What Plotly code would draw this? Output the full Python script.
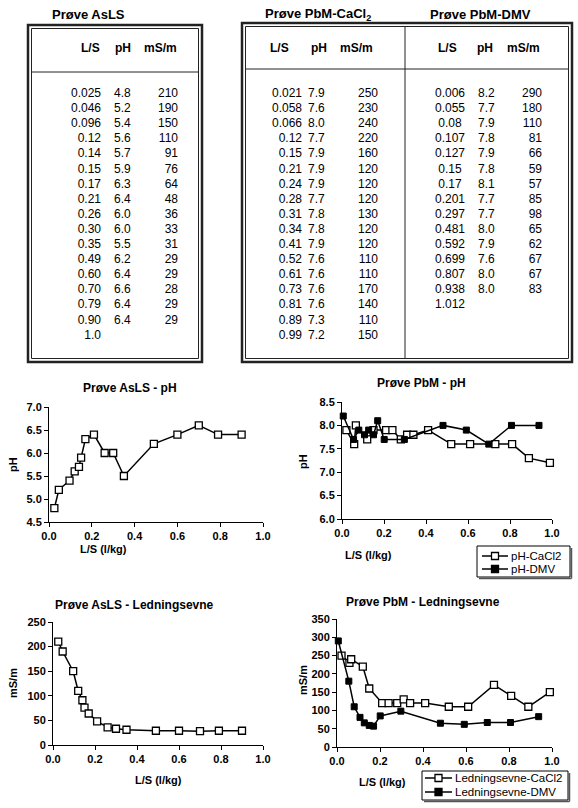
import plotly.graph_objects as go

W, H = 578, 808

# Prøve AsLS
asls_ls = [0.025, 0.046, 0.096, 0.12, 0.14, 0.15, 0.17, 0.21, 0.26, 0.30, 0.35, 0.49, 0.60, 0.70, 0.79, 0.90]
asls_ph = [4.8, 5.2, 5.4, 5.6, 5.7, 5.9, 6.3, 6.4, 6.0, 6.0, 5.5, 6.2, 6.4, 6.6, 6.4, 6.4]
asls_ms = [210, 190, 150, 110, 91, 76, 64, 48, 36, 33, 31, 29, 29, 28, 29, 29]
asls_ls_lbl = ["0.025", "0.046", "0.096", "0.12", "0.14", "0.15", "0.17", "0.21", "0.26", "0.30",
               "0.35", "0.49", "0.60", "0.70", "0.79", "0.90", "1.0"]

# Prøve PbM-CaCl2
cacl_ls = [0.021, 0.058, 0.066, 0.12, 0.15, 0.21, 0.24, 0.28, 0.31, 0.34, 0.41, 0.52, 0.61, 0.73, 0.81, 0.89, 0.99]
cacl_ph = [7.9, 7.6, 8.0, 7.7, 7.9, 7.9, 7.9, 7.7, 7.8, 7.8, 7.9, 7.6, 7.6, 7.6, 7.6, 7.3, 7.2]
cacl_ms = [250, 230, 240, 220, 160, 120, 120, 120, 130, 120, 120, 110, 110, 170, 140, 110, 150]
cacl_ls_lbl = ["0.021", "0.058", "0.066", "0.12", "0.15", "0.21", "0.24", "0.28", "0.31", "0.34",
               "0.41", "0.52", "0.61", "0.73", "0.81", "0.89", "0.99"]

# Prøve PbM-DMV
dmv_ls = [0.006, 0.055, 0.08, 0.107, 0.127, 0.15, 0.17, 0.201, 0.297, 0.481, 0.592, 0.699, 0.807, 0.938]
dmv_ph = [8.2, 7.7, 7.9, 7.8, 7.9, 7.8, 8.1, 7.7, 7.7, 8.0, 7.9, 7.6, 8.0, 8.0]
dmv_ms = [290, 180, 110, 81, 66, 59, 57, 85, 98, 65, 62, 67, 67, 83]
dmv_ls_lbl = ["0.006", "0.055", "0.08", "0.107", "0.127", "0.15", "0.17", "0.201", "0.297", "0.481",
              "0.592", "0.699", "0.807", "0.938", "1.012"]

FONT = "Arial, Liberation Sans, sans-serif"
ROW0, DY = 94, 15.1

fig = go.Figure()


def table_col(x, labels, pos):
    # one column of a table, drawn on the page axis (x5/y5, pixel units)
    fig.add_trace(go.Scatter(
        x=[x] * len(labels), y=[ROW0 + i * DY for i in range(len(labels))],
        text=labels, mode="text", textposition=pos,
        textfont=dict(family=FONT, size=12, color="black"),
        xaxis="x5", yaxis="y5", showlegend=False, hoverinfo="skip", cliponaxis=False))


table_col(101, asls_ls_lbl, "middle left")
table_col(114, [f"{v:.1f}" for v in asls_ph], "middle right")
table_col(178, [str(v) for v in asls_ms], "middle left")

table_col(302, cacl_ls_lbl, "middle left")
table_col(308, [f"{v:.1f}" for v in cacl_ph], "middle right")
table_col(378, [str(v) for v in cacl_ms], "middle left")

table_col(450, dmv_ls_lbl, "middle center")
table_col(478, [f"{v:.1f}" for v in dmv_ph], "middle right")
table_col(542, [str(v) for v in dmv_ms], "middle left")

open_sq = dict(symbol="square", size=7, color="white", line=dict(color="black", width=1.3))
full_sq = dict(symbol="square", size=6, color="black", line=dict(color="black", width=1))
ln = dict(color="black", width=1.5)

fig.add_trace(go.Scatter(x=asls_ls, y=asls_ph, mode="lines+markers", marker=open_sq, line=ln,
                         xaxis="x", yaxis="y", cliponaxis=False))
fig.add_trace(go.Scatter(x=cacl_ls, y=cacl_ph, mode="lines+markers", marker=open_sq, line=ln,
                         name="pH-CaCl2", xaxis="x2", yaxis="y2", cliponaxis=False))
fig.add_trace(go.Scatter(x=dmv_ls, y=dmv_ph, mode="lines+markers", marker=full_sq, line=ln,
                         name="pH-DMV", xaxis="x2", yaxis="y2", cliponaxis=False))
fig.add_trace(go.Scatter(x=asls_ls, y=asls_ms, mode="lines+markers", marker=open_sq, line=ln,
                         xaxis="x3", yaxis="y3", cliponaxis=False))
fig.add_trace(go.Scatter(x=cacl_ls, y=cacl_ms, mode="lines+markers", marker=open_sq, line=ln,
                         name="Ledningsevne-CaCl2", xaxis="x4", yaxis="y4", cliponaxis=False))
fig.add_trace(go.Scatter(x=dmv_ls, y=dmv_ms, mode="lines+markers", marker=full_sq, line=ln,
                         name="Ledningsevne-DMV", xaxis="x4", yaxis="y4", cliponaxis=False))

tickfont = dict(family=FONT, size=11, color="black", weight="bold")
axis_common = dict(showline=True, linecolor="black", linewidth=1, ticks="outside", ticklen=4,
                   tickcolor="black", showgrid=False, zeroline=False, tickfont=tickfont,
                   fixedrange=True, automargin=False)


def chart_axes(n, x0, x1, ytop, ybot, yrange, ydtick):
    sx = "" if n == 1 else str(n)
    fig.layout[f"xaxis{sx}"] = dict(domain=[x0 / W, x1 / W], range=[0, 1], dtick=0.2, tickformat=".1f",
                                     anchor=f"y{sx}", **axis_common)
    fig.layout[f"yaxis{sx}"] = dict(domain=[1 - ybot / H, 1 - ytop / H], range=yrange, dtick=ydtick,
                                     anchor=f"x{sx}", tickformat=".1f" if ydtick < 1 else "d", **axis_common)


chart_axes(1, 49, 263, 407, 522, [4.5, 7.0], 0.5)
chart_axes(2, 342, 552, 402, 519, [6.0, 8.5], 0.5)
chart_axes(3, 53, 263, 622, 745, [0, 250], 50)
chart_axes(4, 337, 552, 619, 747, [0, 350], 50)

# page axis in pixel units for tables and free text
fig.layout.xaxis5 = dict(domain=[0, 1], range=[0, W], visible=False, fixedrange=True, anchor="y5")
fig.layout.yaxis5 = dict(domain=[0, 1], range=[H, 0], visible=False, fixedrange=True, anchor="x5")

shapes = []
ann = []
EDGE = "#222"


def rect(x0, y0, x1, y1, width=1, fill=None, color=EDGE):
    shapes.append(dict(type="rect", xref="x5", yref="y5", x0=x0, y0=y0, x1=x1, y1=y1,
                       line=dict(color=color, width=width), fillcolor=fill, layer="above"))


def line(x0, y0, x1, y1, width=1, color=EDGE):
    shapes.append(dict(type="line", xref="x5", yref="y5", x0=x0, x1=x1, y0=y0, y1=y1,
                       line=dict(color=color, width=width), layer="above"))


def text(x, y, s, size=12, bold=True, anchor="center", angle=0):
    ann.append(dict(x=x, y=y, xref="x5", yref="y5", text=s, showarrow=False, xanchor=anchor,
                    yanchor="middle", textangle=angle,
                    font=dict(family=FONT, size=size, color="black", weight="bold" if bold else "normal")))


def box(x0, y0, x1, y1):
    rect(x0, y0, x1, y1, 2.5)
    rect(x0 + 3.5, y0 + 3.5, x1 - 3.5, y1 - 3.5, 1)


box(28, 25, 202, 362)
line(31.5, 72, 198.5, 72)
box(242, 23, 572, 362)
line(245.5, 69, 568.5, 69)
line(405, 26.5, 405, 358.5)

text(50, 14, "Prøve AsLS", 13, anchor="left")
text(263, 14, "Prøve PbM-CaCl<sub>2</sub>", 13, anchor="left")
text(428, 14, "Prøve PbM-DMV", 13, anchor="left")

for cx, s in [(90, "L/S"), (123, "pH"), (160, "mS/m"),
              (279, "L/S"), (319, "pH"), (356, "mS/m"),
              (447, "L/S"), (485, "pH"), (523, "mS/m")]:
    text(cx, 48, s, 12)

text(130, 388, "Prøve AsLS - pH", 12)
text(421, 383, "Prøve PbM - pH", 12)
text(134, 605, "Prøve AsLS - Ledningsevne", 12)
text(423, 602, "Prøve PbM - Ledningsevne", 12)

text(103, 549, "L/S (l/kg)", 11)
text(368, 555, "L/S (l/kg)", 11)
text(158, 780, "L/S (l/kg)", 11)
text(382, 782, "L/S (l/kg)", 11)

text(13, 465, "pH", 11, angle=-90)
text(303, 462, "pH", 11, angle=-90)
text(13, 683, "mS/m", 11, angle=-90)
text(303, 680, "mS/m", 11, angle=-90)


def legend_box(x0, y0, x1, y1, lx0, lx1, entries):
    # Excel style legend: shadowed frame, line sample with square marker
    line(x0 + 2, y1 + 1.5, x1 + 1.5, y1 + 1.5, 1.5, "#555")
    line(x1 + 1.5, y0 + 2, x1 + 1.5, y1 + 1.5, 1.5, "#555")
    rect(x0, y0, x1, y1, 1, "white", "black")
    mx = (lx0 + lx1) / 2
    for yy, name, filled in entries:
        line(lx0, yy, lx1, yy, 1.5, "black")
        rect(mx - 3.5, yy - 3.5, mx + 3.5, yy + 3.5, 1.3, "black" if filled else "white", "black")
        text(lx1 + 1, yy, name, 11.5, bold=False, anchor="left")


legend_box(477, 546, 570, 577, 482, 508, [(556, "pH-CaCl2", False), (569, "pH-DMV", True)])
legend_box(422, 771, 568, 800, 425, 452, [(778, "Ledningsevne-CaCl2", False), (792, "Ledningsevne-DMV", True)])

fig.update_layout(
    template="none",
    width=W, height=H, margin=dict(l=0, r=0, t=0, b=0, pad=0, autoexpand=False),
    paper_bgcolor="white", plot_bgcolor="rgba(0,0,0,0)",
    showlegend=False, shapes=shapes, annotations=ann,
)

# drop the browser's default 8px body margin so the page lines up with the window
fig.write_html("out.html", config={"displayModeBar": False},
               post_script="document.body.style.margin='0';")
